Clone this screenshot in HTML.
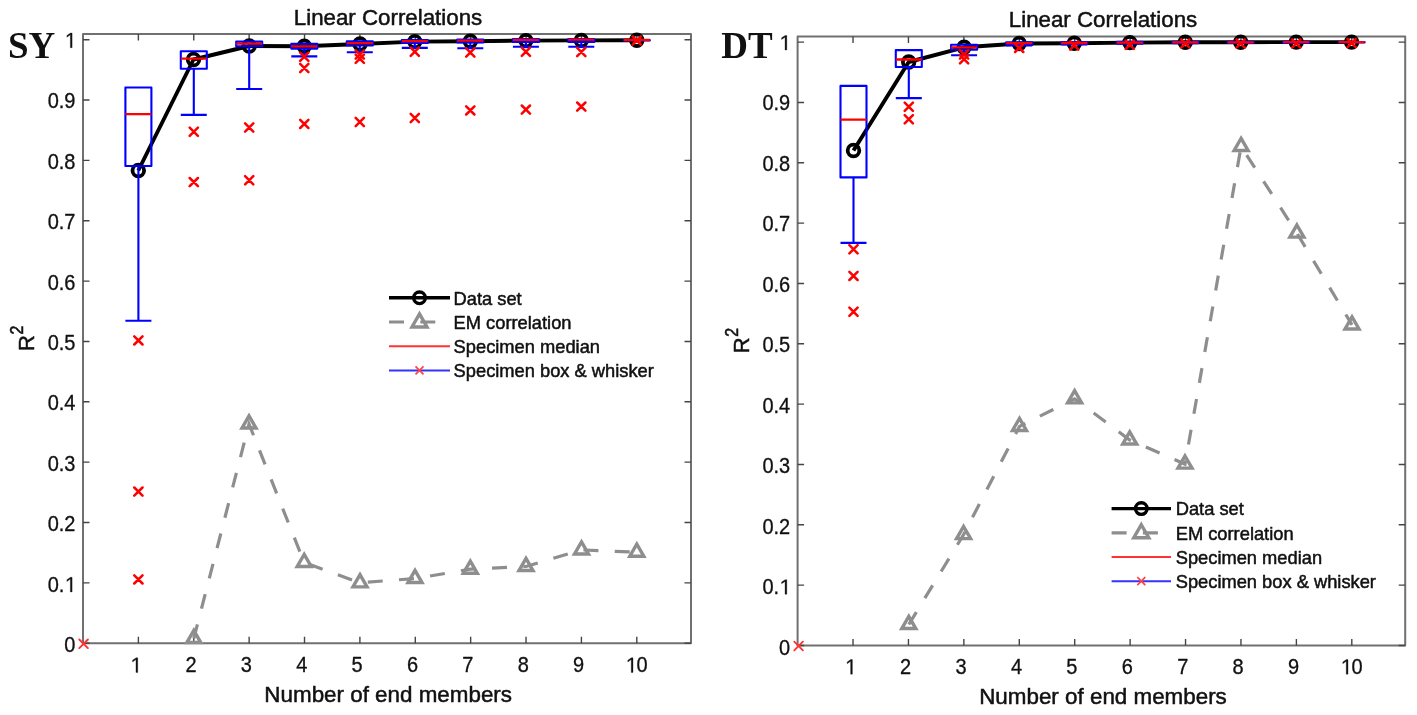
<!DOCTYPE html>
<html><head><meta charset="utf-8"><style>html,body{margin:0;padding:0;background:#fff;}svg{display:block;filter:blur(0.45px)}</style></head>
<body><svg width="1417" height="715" viewBox="0 0 1417 715" font-family='"Liberation Sans", sans-serif' fill="#111" stroke-linejoin="round">
<style>text{stroke:#111;stroke-width:0.5px} .tl{stroke-width:0.3px}</style>
<rect width="1417" height="715" fill="#fff"/>
<path d="M83 34.1H691V643.2H83Z" fill="none" stroke="#707070" stroke-width="2"/>
<path d="M138.38 643.2v-6.5M138.38 34.1v6.5M193.76 643.2v-6.5M193.76 34.1v6.5M249.14 643.2v-6.5M249.14 34.1v6.5M304.52 643.2v-6.5M304.52 34.1v6.5M359.9 643.2v-6.5M359.9 34.1v6.5M415.28 643.2v-6.5M415.28 34.1v6.5M470.66 643.2v-6.5M470.66 34.1v6.5M526.04 643.2v-6.5M526.04 34.1v6.5M581.42 643.2v-6.5M581.42 34.1v6.5M636.8 643.2v-6.5M636.8 34.1v6.5M83 643.2h6.5M691 643.2h-6.5M83 582.85h6.5M691 582.85h-6.5M83 522.5h6.5M691 522.5h-6.5M83 462.15h6.5M691 462.15h-6.5M83 401.8h6.5M691 401.8h-6.5M83 341.45h6.5M691 341.45h-6.5M83 281.1h6.5M691 281.1h-6.5M83 220.75h6.5M691 220.75h-6.5M83 160.4h6.5M691 160.4h-6.5M83 100.05h6.5M691 100.05h-6.5M83 39.7h6.5M691 39.7h-6.5" stroke="#454545" stroke-width="1.4" fill="none"/>
<g transform="translate(0 664.85) scale(1 1.06) translate(0 -664.85)">
<path d="M610 0L610 1237L260 1010L260 1180L625 1409L791 1409L791 0Z" transform="translate(130.02 672) scale(0.009766 -0.009766)" fill="#111" stroke="#111" stroke-width="30.7" stroke-linejoin="round"/>
</g>
<g transform="translate(0 664.85) scale(1 1.06) translate(0 -664.85)">
<text class="tl" x="185.4" y="672" font-size="20">2</text>
</g>
<g transform="translate(0 664.85) scale(1 1.06) translate(0 -664.85)">
<text class="tl" x="240.78" y="672" font-size="20">3</text>
</g>
<g transform="translate(0 664.85) scale(1 1.06) translate(0 -664.85)">
<text class="tl" x="296.16" y="672" font-size="20">4</text>
</g>
<g transform="translate(0 664.85) scale(1 1.06) translate(0 -664.85)">
<text class="tl" x="351.54" y="672" font-size="20">5</text>
</g>
<g transform="translate(0 664.85) scale(1 1.06) translate(0 -664.85)">
<text class="tl" x="406.92" y="672" font-size="20">6</text>
</g>
<g transform="translate(0 664.85) scale(1 1.06) translate(0 -664.85)">
<text class="tl" x="462.3" y="672" font-size="20">7</text>
</g>
<g transform="translate(0 664.85) scale(1 1.06) translate(0 -664.85)">
<text class="tl" x="517.68" y="672" font-size="20">8</text>
</g>
<g transform="translate(0 664.85) scale(1 1.06) translate(0 -664.85)">
<text class="tl" x="573.06" y="672" font-size="20">9</text>
</g>
<g transform="translate(0 664.85) scale(1 1.06) translate(0 -664.85)">
<path d="M610 0L610 1237L260 1010L260 1180L625 1409L791 1409L791 0Z" transform="translate(625.28 672) scale(0.009766 -0.009766)" fill="#111" stroke="#111" stroke-width="30.7" stroke-linejoin="round"/>
<text class="tl" x="636.4" y="672" font-size="20">0</text>
</g>
<g transform="translate(0 644.8) scale(1 1.06) translate(0 -644.8)">
<text class="tl" x="64.38" y="651.95" font-size="20">0</text>
</g>
<g transform="translate(0 584.33) scale(1 1.06) translate(0 -584.33)">
<text class="tl" x="47.7" y="591.48" font-size="20">0.</text>
<path d="M610 0L610 1237L260 1010L260 1180L625 1409L791 1409L791 0Z" transform="translate(64.38 591.48) scale(0.009766 -0.009766)" fill="#111" stroke="#111" stroke-width="30.7" stroke-linejoin="round"/>
</g>
<g transform="translate(0 523.86) scale(1 1.06) translate(0 -523.86)">
<text class="tl" x="47.7" y="531.01" font-size="20">0.2</text>
</g>
<g transform="translate(0 463.39) scale(1 1.06) translate(0 -463.39)">
<text class="tl" x="47.7" y="470.54" font-size="20">0.3</text>
</g>
<g transform="translate(0 402.92) scale(1 1.06) translate(0 -402.92)">
<text class="tl" x="47.7" y="410.07" font-size="20">0.4</text>
</g>
<g transform="translate(0 342.45) scale(1 1.06) translate(0 -342.45)">
<text class="tl" x="47.7" y="349.6" font-size="20">0.5</text>
</g>
<g transform="translate(0 281.98) scale(1 1.06) translate(0 -281.98)">
<text class="tl" x="47.7" y="289.13" font-size="20">0.6</text>
</g>
<g transform="translate(0 221.51) scale(1 1.06) translate(0 -221.51)">
<text class="tl" x="47.7" y="228.66" font-size="20">0.7</text>
</g>
<g transform="translate(0 161.04) scale(1 1.06) translate(0 -161.04)">
<text class="tl" x="47.7" y="168.19" font-size="20">0.8</text>
</g>
<g transform="translate(0 100.57) scale(1 1.06) translate(0 -100.57)">
<text class="tl" x="47.7" y="107.72" font-size="20">0.9</text>
</g>
<g transform="translate(0 40.1) scale(1 1.06) translate(0 -40.1)">
<path d="M610 0L610 1237L260 1010L260 1180L625 1409L791 1409L791 0Z" transform="translate(64.38 47.25) scale(0.009766 -0.009766)" fill="#111" stroke="#111" stroke-width="30.7" stroke-linejoin="round"/>
</g>
<path d="M193.8 638.5L249 424L304.2 562.4L360 582.8L415 578.5L470.3 569.2L526 566.5L581.5 549.9L636.8 552.2" fill="none" stroke="#8e8e8e" stroke-width="3.2" stroke-dasharray="15 16.3" stroke-dashoffset="0.5" stroke-linejoin="miter"/>
<path d="M193.8 630.42L200.8 642.54L186.8 642.54ZM249 415.92L256 428.04L242 428.04ZM304.2 554.32L311.2 566.44L297.2 566.44ZM360 574.72L367 586.84L353 586.84ZM415 570.42L422 582.54L408 582.54ZM470.3 561.12L477.3 573.24L463.3 573.24ZM526 558.42L533 570.54L519 570.54ZM581.5 541.82L588.5 553.94L574.5 553.94ZM636.8 544.12L643.8 556.24L629.8 556.24Z" fill="none" stroke="#8e8e8e" stroke-width="3.4" stroke-linejoin="miter"/>
<path d="M138.3 170.5L193.5 59.5L249.2 46L304.3 46.3L360 44L414.8 41.6L470.3 41.2L525.9 40.6L581.3 40.4L636.8 40.2" fill="none" stroke="#000" stroke-width="3.9" stroke-linejoin="round"/>
<circle cx="138.3" cy="170.5" r="5.8" fill="none" stroke="#000" stroke-width="3.8"/>
<circle cx="193.5" cy="59.5" r="5.8" fill="none" stroke="#000" stroke-width="3.8"/>
<circle cx="249.2" cy="46" r="5.8" fill="none" stroke="#000" stroke-width="3.8"/>
<circle cx="304.3" cy="46.3" r="5.8" fill="none" stroke="#000" stroke-width="3.8"/>
<circle cx="360" cy="44" r="5.8" fill="none" stroke="#000" stroke-width="3.8"/>
<circle cx="414.8" cy="41.6" r="5.8" fill="none" stroke="#000" stroke-width="3.8"/>
<circle cx="470.3" cy="41.2" r="5.8" fill="none" stroke="#000" stroke-width="3.8"/>
<circle cx="525.9" cy="40.6" r="5.8" fill="none" stroke="#000" stroke-width="3.8"/>
<circle cx="581.3" cy="40.4" r="5.8" fill="none" stroke="#000" stroke-width="3.8"/>
<circle cx="636.8" cy="40.2" r="5.8" fill="none" stroke="#000" stroke-width="3.8"/>
<path d="M125.4 87.5H151.4V166H125.4ZM138.4 166V320.8M125.4 320.8H151.4M180.8 51.3H206.8V68.8H180.8ZM193.8 68.8V114.9M180.8 114.9H206.8M236.2 41.6H262.2V46.3H236.2ZM249.2 46.3V89M236.2 89H262.2M291.3 43.7H317.3V48.6H291.3ZM304.3 48.6V56.4M291.3 56.4H317.3M346.8 41.2H372.8V45.5H346.8ZM359.8 45.5V52.2M346.8 52.2H372.8M401.8 40H427.8V43H401.8ZM414.8 43V47.9M401.8 47.9H427.8M457.3 39.5H483.3V42.5H457.3ZM470.3 42.5V48.3M457.3 48.3H483.3M512.9 39H538.9V42H512.9ZM525.9 42V46.8M512.9 46.8H538.9M568.3 39H594.3V42H568.3ZM581.3 42V46.8M568.3 46.8H594.3M623.8 40H649.8V40.5H623.8Z" fill="none" stroke="#00f" stroke-width="2.1"/>
<path d="M125.4 114.1H151.4M180.8 58.7H206.8M236.2 43.7H262.2M291.3 46.3H317.3M346.8 43.2H372.8M401.8 41.2H427.8M457.3 40.6H483.3M512.9 39.8H538.9M568.3 39.6H594.3M623.8 40H649.8" fill="none" stroke="#f00" stroke-width="2.3"/>
<path d="M79.3 639.5L87.9 648.1M79.3 648.1L87.9 639.5" fill="none" stroke="#f33" stroke-width="1.9" stroke-linecap="round"/>
<path d="M134.3 336.3L142.5 344.5M134.3 344.5L142.5 336.3M134.3 487.5L142.5 495.7M134.3 495.7L142.5 487.5M134.3 575.3L142.5 583.5M134.3 583.5L142.5 575.3M189.7 127.6L197.9 135.8M189.7 135.8L197.9 127.6M189.7 178L197.9 186.2M189.7 186.2L197.9 178M245.1 123.4L253.3 131.6M245.1 131.6L253.3 123.4M245.1 176.1L253.3 184.3M245.1 184.3L253.3 176.1M300.2 52.7L308.4 60.9M300.2 60.9L308.4 52.7M300.2 63.9L308.4 72.1M300.2 72.1L308.4 63.9M300.2 119.8L308.4 128M300.2 128L308.4 119.8M355.7 50.4L363.9 58.6M355.7 58.6L363.9 50.4M355.7 54.7L363.9 62.9M355.7 62.9L363.9 54.7M355.7 117.9L363.9 126.1M355.7 126.1L363.9 117.9M410.7 47.6L418.9 55.8M410.7 55.8L418.9 47.6M410.7 113.9L418.9 122.1M410.7 122.1L418.9 113.9M466.2 48.4L474.4 56.6M466.2 56.6L474.4 48.4M466.2 106.3L474.4 114.5M466.2 114.5L474.4 106.3M521.8 47.6L530 55.8M521.8 55.8L530 47.6M521.8 105.5L530 113.7M521.8 113.7L530 105.5M577.2 47.9L585.4 56.1M577.2 56.1L585.4 47.9M577.2 102.5L585.4 110.7M577.2 110.7L585.4 102.5M632.7 36.4L640.9 44.6M632.7 44.6L640.9 36.4" fill="none" stroke="#f00" stroke-width="2.5" stroke-linecap="round"/>
<path d="M389 297.8H450" stroke="#000" stroke-width="3.4"/>
<circle cx="419.5" cy="297.8" r="5.8" fill="none" stroke="#000" stroke-width="3.4"/>
<path d="M389 322H450" stroke="#8e8e8e" stroke-width="3.2" stroke-dasharray="15 16.3"/>
<path d="M419.5 313.94L427 326.93L412 326.93Z" fill="none" stroke="#8e8e8e" stroke-width="3.4" stroke-linejoin="miter"/>
<path d="M389 346.2H450" stroke="#f33" stroke-width="2"/>
<path d="M389 370.4H450" stroke="#33f" stroke-width="2"/>
<path d="M415.5 366.4L423.5 374.4M415.5 374.4L423.5 366.4" stroke="#f44" stroke-width="1.7"/>
<text transform="translate(453.6 304.6) scale(1 1.05)" font-size="18.3">Data set</text>
<text transform="translate(453.6 328.8) scale(1 1.05)" font-size="18.3">EM correlation</text>
<text transform="translate(453.6 353) scale(1 1.05)" font-size="18.3">Specimen median</text>
<text transform="translate(453.6 377.2) scale(1 1.05)" font-size="18.3">Specimen box &amp; whisker</text>
<text x="388" y="25" text-anchor="middle" font-size="22.3">Linear Correlations</text>
<text x="388.2" y="702" text-anchor="middle" font-size="22.4">Number of end members</text>
<text transform="translate(33.9 350.9) rotate(-90)" font-size="22">R</text>
<text transform="translate(23.2 334.6) rotate(-90) scale(1 1.11)" font-size="16">2</text>
<text x="8" y="58" font-family="&quot;Liberation Serif&quot;, serif" font-weight="bold" font-size="37" style="stroke:none">SY</text>
<path d="M797.6 36.5H1405.2V645.5H797.6Z" fill="none" stroke="#707070" stroke-width="2"/>
<path d="M853.02 645.5v-6.5M853.02 36.5v6.5M908.44 645.5v-6.5M908.44 36.5v6.5M963.86 645.5v-6.5M963.86 36.5v6.5M1019.28 645.5v-6.5M1019.28 36.5v6.5M1074.7 645.5v-6.5M1074.7 36.5v6.5M1130.12 645.5v-6.5M1130.12 36.5v6.5M1185.54 645.5v-6.5M1185.54 36.5v6.5M1240.96 645.5v-6.5M1240.96 36.5v6.5M1296.38 645.5v-6.5M1296.38 36.5v6.5M1351.8 645.5v-6.5M1351.8 36.5v6.5M797.6 645.5h6.5M1405.2 645.5h-6.5M797.6 585.16h6.5M1405.2 585.16h-6.5M797.6 524.82h6.5M1405.2 524.82h-6.5M797.6 464.48h6.5M1405.2 464.48h-6.5M797.6 404.14h6.5M1405.2 404.14h-6.5M797.6 343.8h6.5M1405.2 343.8h-6.5M797.6 283.46h6.5M1405.2 283.46h-6.5M797.6 223.12h6.5M1405.2 223.12h-6.5M797.6 162.78h6.5M1405.2 162.78h-6.5M797.6 102.44h6.5M1405.2 102.44h-6.5M797.6 42.1h6.5M1405.2 42.1h-6.5" stroke="#454545" stroke-width="1.4" fill="none"/>
<g transform="translate(0 666.55) scale(1 1.06) translate(0 -666.55)">
<path d="M610 0L610 1237L260 1010L260 1180L625 1409L791 1409L791 0Z" transform="translate(844.66 673.7) scale(0.009766 -0.009766)" fill="#111" stroke="#111" stroke-width="30.7" stroke-linejoin="round"/>
</g>
<g transform="translate(0 666.55) scale(1 1.06) translate(0 -666.55)">
<text class="tl" x="900.08" y="673.7" font-size="20">2</text>
</g>
<g transform="translate(0 666.55) scale(1 1.06) translate(0 -666.55)">
<text class="tl" x="955.5" y="673.7" font-size="20">3</text>
</g>
<g transform="translate(0 666.55) scale(1 1.06) translate(0 -666.55)">
<text class="tl" x="1010.92" y="673.7" font-size="20">4</text>
</g>
<g transform="translate(0 666.55) scale(1 1.06) translate(0 -666.55)">
<text class="tl" x="1066.34" y="673.7" font-size="20">5</text>
</g>
<g transform="translate(0 666.55) scale(1 1.06) translate(0 -666.55)">
<text class="tl" x="1121.76" y="673.7" font-size="20">6</text>
</g>
<g transform="translate(0 666.55) scale(1 1.06) translate(0 -666.55)">
<text class="tl" x="1177.18" y="673.7" font-size="20">7</text>
</g>
<g transform="translate(0 666.55) scale(1 1.06) translate(0 -666.55)">
<text class="tl" x="1232.6" y="673.7" font-size="20">8</text>
</g>
<g transform="translate(0 666.55) scale(1 1.06) translate(0 -666.55)">
<text class="tl" x="1288.02" y="673.7" font-size="20">9</text>
</g>
<g transform="translate(0 666.55) scale(1 1.06) translate(0 -666.55)">
<path d="M610 0L610 1237L260 1010L260 1180L625 1409L791 1409L791 0Z" transform="translate(1340.28 673.7) scale(0.009766 -0.009766)" fill="#111" stroke="#111" stroke-width="30.7" stroke-linejoin="round"/>
<text class="tl" x="1351.4" y="673.7" font-size="20">0</text>
</g>
<g transform="translate(0 647.15) scale(1 1.06) translate(0 -647.15)">
<text class="tl" x="779.08" y="654.3" font-size="20">0</text>
</g>
<g transform="translate(0 586.68) scale(1 1.06) translate(0 -586.68)">
<text class="tl" x="762.4" y="593.83" font-size="20">0.</text>
<path d="M610 0L610 1237L260 1010L260 1180L625 1409L791 1409L791 0Z" transform="translate(779.08 593.83) scale(0.009766 -0.009766)" fill="#111" stroke="#111" stroke-width="30.7" stroke-linejoin="round"/>
</g>
<g transform="translate(0 526.21) scale(1 1.06) translate(0 -526.21)">
<text class="tl" x="762.4" y="533.36" font-size="20">0.2</text>
</g>
<g transform="translate(0 465.74) scale(1 1.06) translate(0 -465.74)">
<text class="tl" x="762.4" y="472.89" font-size="20">0.3</text>
</g>
<g transform="translate(0 405.27) scale(1 1.06) translate(0 -405.27)">
<text class="tl" x="762.4" y="412.42" font-size="20">0.4</text>
</g>
<g transform="translate(0 344.8) scale(1 1.06) translate(0 -344.8)">
<text class="tl" x="762.4" y="351.95" font-size="20">0.5</text>
</g>
<g transform="translate(0 284.33) scale(1 1.06) translate(0 -284.33)">
<text class="tl" x="762.4" y="291.48" font-size="20">0.6</text>
</g>
<g transform="translate(0 223.86) scale(1 1.06) translate(0 -223.86)">
<text class="tl" x="762.4" y="231.01" font-size="20">0.7</text>
</g>
<g transform="translate(0 163.39) scale(1 1.06) translate(0 -163.39)">
<text class="tl" x="762.4" y="170.54" font-size="20">0.8</text>
</g>
<g transform="translate(0 102.92) scale(1 1.06) translate(0 -102.92)">
<text class="tl" x="762.4" y="110.07" font-size="20">0.9</text>
</g>
<g transform="translate(0 42.45) scale(1 1.06) translate(0 -42.45)">
<path d="M610 0L610 1237L260 1010L260 1180L625 1409L791 1409L791 0Z" transform="translate(779.08 49.6) scale(0.009766 -0.009766)" fill="#111" stroke="#111" stroke-width="30.7" stroke-linejoin="round"/>
</g>
<path d="M908.8 624.5L963.6 534.6L1019.5 426.4L1074.6 398.8L1129.7 440L1185 464.1L1241.1 146.4L1296.9 233.1L1352 324.9" fill="none" stroke="#8e8e8e" stroke-width="3.2" stroke-dasharray="15 16.3" stroke-dashoffset="0.5" stroke-linejoin="miter"/>
<path d="M908.8 616.42L915.8 628.54L901.8 628.54ZM963.6 526.52L970.6 538.64L956.6 538.64ZM1019.5 418.32L1026.5 430.44L1012.5 430.44ZM1074.6 390.72L1081.6 402.84L1067.6 402.84ZM1129.7 431.92L1136.7 444.04L1122.7 444.04ZM1185 456.02L1192 468.14L1178 468.14ZM1241.1 138.32L1248.1 150.44L1234.1 150.44ZM1296.9 225.02L1303.9 237.14L1289.9 237.14ZM1352 316.82L1359 328.94L1345 328.94Z" fill="none" stroke="#8e8e8e" stroke-width="3.4" stroke-linejoin="miter"/>
<path d="M853.5 150.5L908.7 62L964.1 47.3L1019.2 43.5L1074.3 43.2L1129.8 42.6L1185.3 42.3L1240.7 42.2L1296.2 42.1L1351.6 42.1" fill="none" stroke="#000" stroke-width="3.9" stroke-linejoin="round"/>
<circle cx="853.5" cy="150.5" r="5.8" fill="none" stroke="#000" stroke-width="3.8"/>
<circle cx="908.7" cy="62" r="5.8" fill="none" stroke="#000" stroke-width="3.8"/>
<circle cx="964.1" cy="47.3" r="5.8" fill="none" stroke="#000" stroke-width="3.8"/>
<circle cx="1019.2" cy="43.5" r="5.8" fill="none" stroke="#000" stroke-width="3.8"/>
<circle cx="1074.3" cy="43.2" r="5.8" fill="none" stroke="#000" stroke-width="3.8"/>
<circle cx="1129.8" cy="42.6" r="5.8" fill="none" stroke="#000" stroke-width="3.8"/>
<circle cx="1185.3" cy="42.3" r="5.8" fill="none" stroke="#000" stroke-width="3.8"/>
<circle cx="1240.7" cy="42.2" r="5.8" fill="none" stroke="#000" stroke-width="3.8"/>
<circle cx="1296.2" cy="42.1" r="5.8" fill="none" stroke="#000" stroke-width="3.8"/>
<circle cx="1351.6" cy="42.1" r="5.8" fill="none" stroke="#000" stroke-width="3.8"/>
<path d="M840.5 85.9H866.5V177.4H840.5ZM853.5 177.4V242.9M840.5 242.9H866.5M895.8 50.1H921.8V67H895.8ZM908.8 67V98.1M895.8 98.1H921.8M951.1 44.8H977.1V49.8H951.1ZM964.1 49.8V55.3M951.1 55.3H977.1M1006.2 42.3H1032.2V45H1006.2ZM1019.2 45V45.5M1006.2 45.5H1032.2M1061.3 42H1087.3V44H1061.3ZM1074.3 44V44.5M1061.3 44.5H1087.3M1116.8 41.8H1142.8V43.5H1116.8ZM1129.8 43.5V43.8M1116.8 43.8H1142.8M1172.3 41.8H1198.3V43H1172.3ZM1185.3 43V43.3M1172.3 43.3H1198.3M1227.7 41.8H1253.7V43H1227.7ZM1283.2 41.8H1309.2V43H1283.2ZM1338.6 42H1364.6V42.5H1338.6Z" fill="none" stroke="#00f" stroke-width="2.1"/>
<path d="M840.5 119.6H866.5M895.8 59.5H921.8M951.1 47.4H977.1M1006.2 43.2H1032.2M1061.3 43H1087.3M1116.8 42.6H1142.8M1172.3 42.3H1198.3M1227.7 42.3H1253.7M1283.2 42.2H1309.2M1338.6 42.1H1364.6" fill="none" stroke="#f00" stroke-width="2.3"/>
<path d="M794.3 641.7L802.9 650.3M794.3 650.3L802.9 641.7" fill="none" stroke="#f33" stroke-width="1.9" stroke-linecap="round"/>
<path d="M849.4 245.2L857.6 253.4M849.4 253.4L857.6 245.2M849.4 271.8L857.6 280M849.4 280L857.6 271.8M849.4 307.6L857.6 315.8M849.4 315.8L857.6 307.6M904.7 102.6L912.9 110.8M904.7 110.8L912.9 102.6M904.7 115.1L912.9 123.3M904.7 123.3L912.9 115.1M960 50.4L968.2 58.6M960 58.6L968.2 50.4M960 55.2L968.2 63.4M960 63.4L968.2 55.2M1015.1 43.8L1023.3 52M1015.1 52L1023.3 43.8M1070.2 41.4L1078.4 49.6M1070.2 49.6L1078.4 41.4M1125.7 40.7L1133.9 48.9M1125.7 48.9L1133.9 40.7M1181.2 39.4L1189.4 47.6M1181.2 47.6L1189.4 39.4M1236.6 39.4L1244.8 47.6M1236.6 47.6L1244.8 39.4M1292.1 39.4L1300.3 47.6M1292.1 47.6L1300.3 39.4M1347.5 38.9L1355.7 47.1M1347.5 47.1L1355.7 38.9" fill="none" stroke="#f00" stroke-width="2.5" stroke-linecap="round"/>
<path d="M1111.6 508.6H1171" stroke="#000" stroke-width="3.4"/>
<circle cx="1141.3" cy="508.6" r="5.8" fill="none" stroke="#000" stroke-width="3.4"/>
<path d="M1111.6 532.8H1171" stroke="#8e8e8e" stroke-width="3.2" stroke-dasharray="15 16.3"/>
<path d="M1141.3 524.74L1148.8 537.73L1133.8 537.73Z" fill="none" stroke="#8e8e8e" stroke-width="3.4" stroke-linejoin="miter"/>
<path d="M1111.6 557H1171" stroke="#f33" stroke-width="2"/>
<path d="M1111.6 581.2H1171" stroke="#33f" stroke-width="2"/>
<path d="M1137.3 577.2L1145.3 585.2M1137.3 585.2L1145.3 577.2" stroke="#f44" stroke-width="1.7"/>
<text transform="translate(1175.7 515.4) scale(1 1.05)" font-size="18.3">Data set</text>
<text transform="translate(1175.7 539.6) scale(1 1.05)" font-size="18.3">EM correlation</text>
<text transform="translate(1175.7 563.8) scale(1 1.05)" font-size="18.3">Specimen median</text>
<text transform="translate(1175.7 588) scale(1 1.05)" font-size="18.3">Specimen box &amp; whisker</text>
<text x="1103" y="27.2" text-anchor="middle" font-size="22.3">Linear Correlations</text>
<text x="1103" y="703.8" text-anchor="middle" font-size="22.4">Number of end members</text>
<text transform="translate(748.9 353.2) rotate(-90)" font-size="22">R</text>
<text transform="translate(738.4 336.8) rotate(-90) scale(1 1.11)" font-size="16">2</text>
<text x="721.3" y="57.9" font-family="&quot;Liberation Serif&quot;, serif" font-weight="bold" font-size="37" style="stroke:none">DT</text>
</svg></body></html>
